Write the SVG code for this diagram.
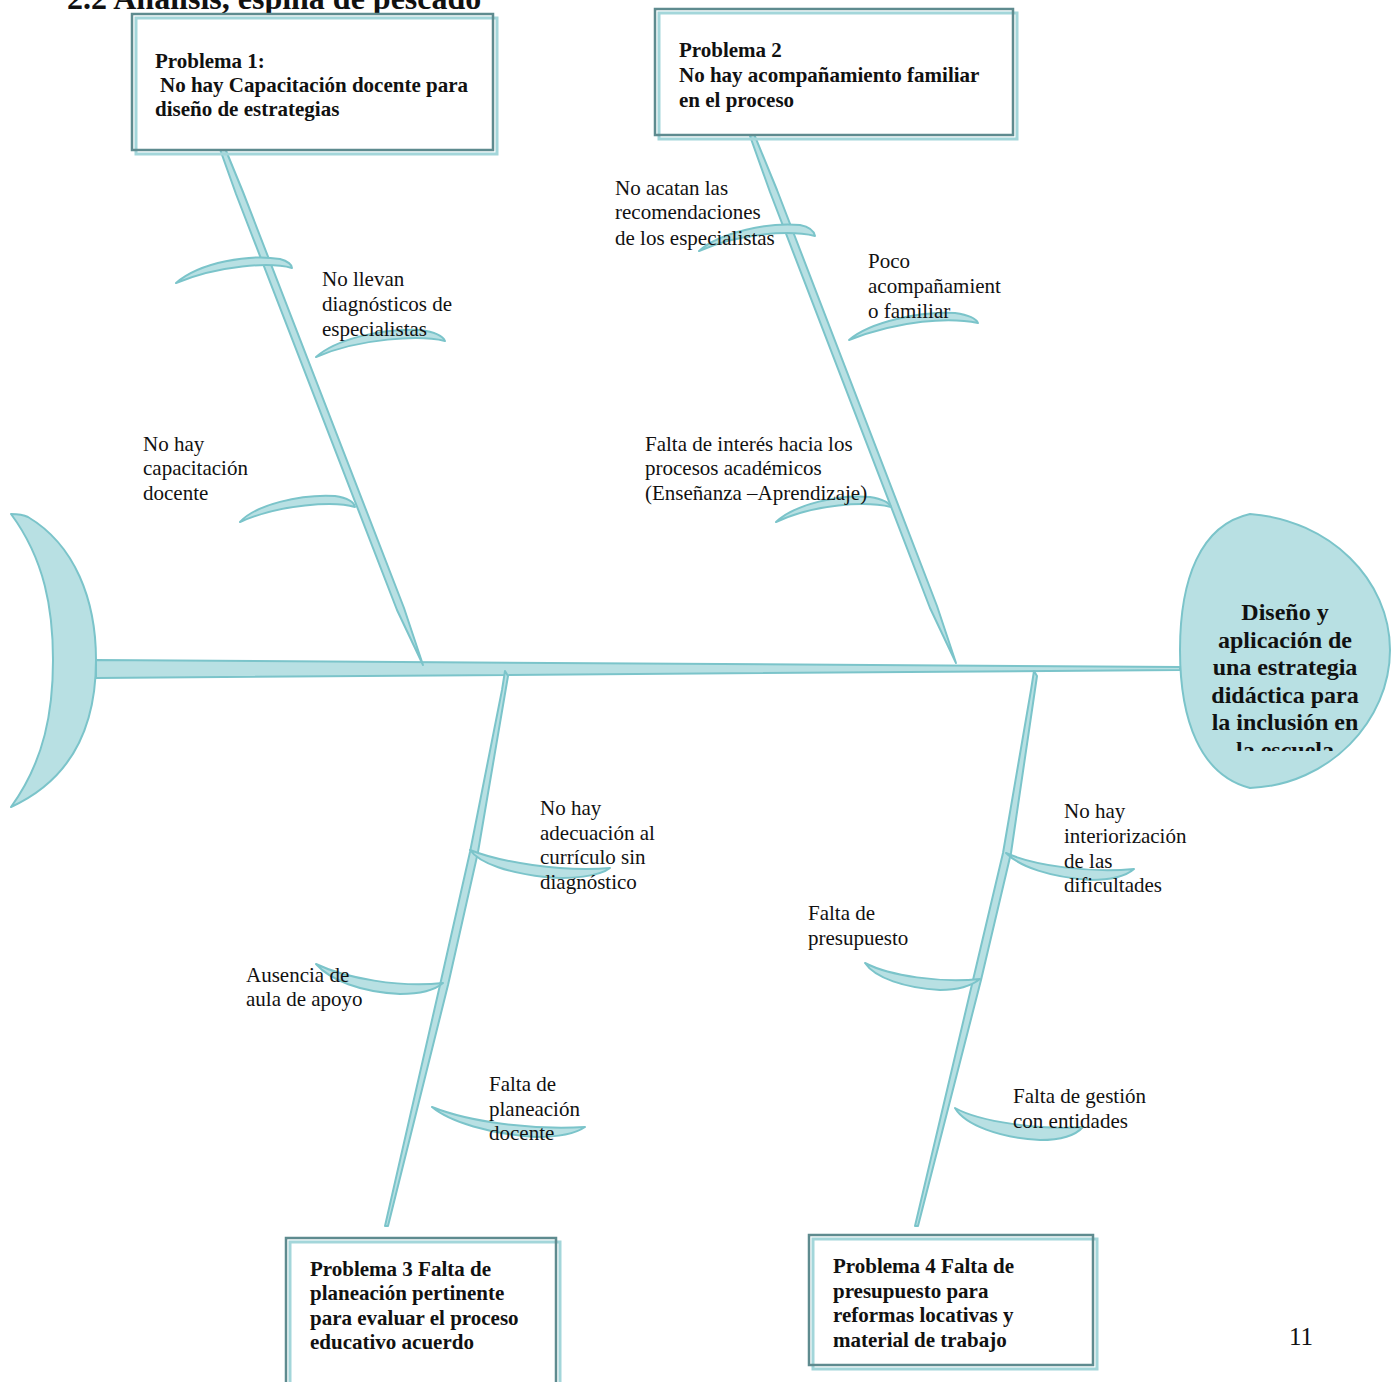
<svg xmlns="http://www.w3.org/2000/svg" width="1396" height="1382" viewBox="0 0 1396 1382">
<style>
.bone{fill:#B8E0E3;stroke:#7BC4CA;stroke-width:2;stroke-linejoin:round}
.lbl{font-family:"Liberation Serif","Times New Roman",serif;font-size:21px;fill:#111}
.bx{font-family:"Liberation Serif","Times New Roman",serif;font-size:21px;font-weight:bold;fill:#111}
.hd{font-family:"Liberation Serif","Times New Roman",serif;font-size:24px;font-weight:bold;fill:#111;text-anchor:middle}
.pg{font-family:"Liberation Serif","Times New Roman",serif;font-size:25px;fill:#111}
.dark{fill:none;stroke:#5E8B8F;stroke-width:2.5}
.light{fill:none;stroke:#A3D6DA;stroke-width:3}
</style>
<defs>
<clipPath id="headclip"><rect x="1180" y="580" width="210" height="171"/></clipPath>
</defs>
<rect width="1396" height="1382" fill="#fff"/>
<text x="67" y="9" font-family="Liberation Serif, Times New Roman, serif" font-size="32" font-weight="bold" fill="#111">2.2 Análisis, espina de pescado</text>

<g id="connectors">
  <path class="bone" d="M96,660 L1180,667 L1180,670 L96,678 Z"/>
  <path class="bone" d="M216,138 L220,136 L243,192 L404,608 L423,665 L397,610 L236,194 Z"/>
  <path class="bone" d="M750,136 L754,134 L777,190 L937,606 L956,663 L930,608 L770,192 Z"/>
  <path class="bone" d="M505,671 L508,676 L478,852 L448,985 L388,1226 L385,1226 L440,985 L470,852 L502,690 Z"/>
  <path class="bone" d="M1034,671 L1037,676 L1011,853 L981,980 L918,1226 L915,1226 L973,980 L1003,853 L1031,690 Z"/>
  <path class="bone" d="M176,283 C200,262 250,254 280,259 C288,261 292,265 292,268 C270,262 220,265 176,283 Z"/>
  <path class="bone" d="M316,357 C335,340 380,328 420,330 C435,332 443,336 445,341 C420,335 360,338 316,357 Z"/>
  <path class="bone" d="M240,522 C255,505 300,494 335,496 C348,498 354,502 355,507 C335,501 280,504 240,522 Z"/>
  <path class="bone" d="M699,251 C720,232 770,222 800,225 C810,227 814,231 815,236 C790,230 740,233 699,251 Z"/>
  <path class="bone" d="M849,340 C870,322 920,311 955,313 C968,315 976,318 978,323 C950,317 900,320 849,340 Z"/>
  <path class="bone" d="M776,522 C795,504 840,494 870,497 C882,499 889,502 891,507 C865,501 815,504 776,522 Z"/>
  <path class="bone" d="M470,850 C500,862 560,872 610,868 C600,876 570,880 545,877 C510,873 480,864 470,850 Z"/>
  <path class="bone" d="M316,964 C345,978 400,988 443,983 C435,990 420,994 400,994 C360,992 330,980 316,964 Z"/>
  <path class="bone" d="M432,1107 C470,1122 530,1130 585,1127 C575,1134 555,1137 535,1137 C490,1134 450,1122 432,1107 Z"/>
  <path class="bone" d="M1006,853 C1035,866 1090,873 1134,869 C1125,877 1110,880 1090,880 C1050,877 1020,867 1006,853 Z"/>
  <path class="bone" d="M865,963 C890,976 940,983 980,979 C970,987 955,990 940,990 C905,988 875,978 865,963 Z"/>
  <path class="bone" d="M955,1108 C980,1122 1040,1130 1083,1127 C1075,1136 1060,1140 1040,1140 C1000,1138 965,1125 955,1108 Z"/>
</g>

<g id="tail">
  <path class="bone" d="M11,514 C18,514 24,515 28,517 C75,545 96,600 96,660 C96,730 70,780 11,807 C45,760 53,710 53,660 C53,610 45,560 11,514 Z"/>
</g>

<g id="head">
  <path class="bone" d="M1250,514 C1330,520 1390,580 1390,650 C1390,720 1330,785 1250,788 C1200,775 1180,720 1180,650 C1180,580 1200,525 1250,514 Z"/>
  <g clip-path="url(#headclip)">
    <text class="hd" x="1285" y="620">Diseño y</text>
    <text class="hd" x="1285" y="647.5">aplicación de</text>
    <text class="hd" x="1285" y="675">una estrategia</text>
    <text class="hd" x="1285" y="702.5">didáctica para</text>
    <text class="hd" x="1285" y="730">la inclusión en</text>
    <text class="hd" x="1285" y="757.5">la escuela</text>
  </g>
</g>

<g id="problema1">
  <rect x="132" y="14" width="361" height="136" fill="#fff"/>
  <rect class="light" x="136" y="18" width="361" height="136"/>
  <rect class="dark" x="132" y="14" width="361" height="136"/>
  <text class="bx" x="155" y="68">Problema 1:</text>
  <text class="bx" x="160" y="92">No hay Capacitación docente para</text>
  <text class="bx" x="155" y="116">diseño de estrategias</text>
</g>

<g id="problema2">
  <rect x="655" y="9" width="358" height="126" fill="#fff"/>
  <rect class="light" x="659" y="13" width="358" height="126"/>
  <rect class="dark" x="655" y="9" width="358" height="126"/>
  <text class="bx" x="679" y="57">Problema 2</text>
  <text class="bx" x="679" y="82">No hay acompañamiento familiar</text>
  <text class="bx" x="679" y="107">en el proceso</text>
</g>

<g id="problema3">
  <rect x="286" y="1238" width="270" height="150" fill="#fff"/>
  <rect class="light" x="290" y="1242" width="270" height="150"/>
  <rect class="dark" x="286" y="1238" width="270" height="150"/>
  <text class="bx" x="310" y="1276">Problema 3 Falta de</text>
  <text class="bx" x="310" y="1300">planeación pertinente</text>
  <text class="bx" x="310" y="1325">para evaluar el proceso</text>
  <text class="bx" x="310" y="1349">educativo acuerdo</text>
</g>

<g id="problema4">
  <rect x="809" y="1235" width="284" height="130" fill="#fff"/>
  <rect class="light" x="813" y="1239" width="284" height="130"/>
  <rect class="dark" x="809" y="1235" width="284" height="130"/>
  <text class="bx" x="833" y="1273">Problema 4 Falta de</text>
  <text class="bx" x="833" y="1298">presupuesto para</text>
  <text class="bx" x="833" y="1322">reformas locativas y</text>
  <text class="bx" x="833" y="1347">material de trabajo</text>
</g>

<g id="labels">
  <text class="lbl" x="322" y="286">No llevan</text>
  <text class="lbl" x="322" y="311">diagnósticos de</text>
  <text class="lbl" x="322" y="336">especialistas</text>

  <text class="lbl" x="143" y="451">No hay</text>
  <text class="lbl" x="143" y="475">capacitación</text>
  <text class="lbl" x="143" y="500">docente</text>

  <text class="lbl" x="615" y="195">No acatan las</text>
  <text class="lbl" x="615" y="219">recomendaciones</text>
  <text class="lbl" x="615" y="245">de los especialistas</text>

  <text class="lbl" x="868" y="268">Poco</text>
  <text class="lbl" x="868" y="293">acompañamient</text>
  <text class="lbl" x="868" y="318">o familiar</text>

  <text class="lbl" x="645" y="451">Falta de interés hacia los</text>
  <text class="lbl" x="645" y="475">procesos académicos</text>
  <text class="lbl" x="645" y="500">(Enseñanza –Aprendizaje)</text>

  <text class="lbl" x="540" y="815">No hay</text>
  <text class="lbl" x="540" y="840">adecuación al</text>
  <text class="lbl" x="540" y="864">currículo sin</text>
  <text class="lbl" x="540" y="889">diagnóstico</text>

  <text class="lbl" x="246" y="982">Ausencia de</text>
  <text class="lbl" x="246" y="1006">aula de apoyo</text>

  <text class="lbl" x="489" y="1091">Falta de</text>
  <text class="lbl" x="489" y="1116">planeación</text>
  <text class="lbl" x="489" y="1140">docente</text>

  <text class="lbl" x="1064" y="818">No hay</text>
  <text class="lbl" x="1064" y="843">interiorización</text>
  <text class="lbl" x="1064" y="868">de las</text>
  <text class="lbl" x="1064" y="892">dificultades</text>

  <text class="lbl" x="808" y="920">Falta de</text>
  <text class="lbl" x="808" y="945">presupuesto</text>

  <text class="lbl" x="1013" y="1103">Falta de gestión</text>
  <text class="lbl" x="1013" y="1128">con entidades</text>

  <text class="pg" x="1289" y="1345">11</text>
</g>
</svg>
